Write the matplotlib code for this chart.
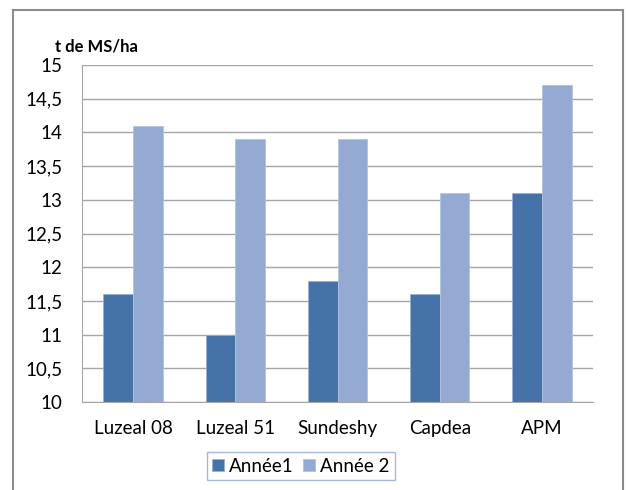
import matplotlib
matplotlib.use("Agg")
import matplotlib.pyplot as plt
import numpy as np
from matplotlib.patches import Rectangle
from matplotlib.ticker import FuncFormatter

plt.rcParams['font.family'] = ['Lato', 'DejaVu Sans']

categories = ["Luzeal 08", "Luzeal 51", "Sundeshy", "Capdea", "APM"]
annee1 = [11.6, 11.0, 11.8, 11.6, 13.1]
annee2 = [14.1, 13.9, 13.9, 13.1, 14.7]
series_names = ["Année1", "Année 2"]
y_ticks = [10, 10.5, 11, 11.5, 12, 12.5, 13, 13.5, 14, 14.5, 15]

W, H = 628, 490
fig = plt.figure(figsize=(W/100, H/100), dpi=100)
fig.patches.append(Rectangle((13/W, -0.1), (623-13)/W, 1.1 - 10/H,
                             transform=fig.transFigure, fill=False,
                             edgecolor='#8c8c8c', linewidth=1.5))
ax = fig.add_axes([82/W, 1-402/H, (593-82)/W, (402-65)/H])

x = np.arange(len(categories))
w = 0.29
c1 = '#4573A7'
c2 = '#94AAD2'
ax.bar(x - w/2, [v - 10 for v in annee1], w, bottom=10, color=c1,
       edgecolor='#9ab0d6', linewidth=0.6, label=series_names[0], zorder=3)
ax.bar(x + w/2, [v - 10 for v in annee2], w, bottom=10, color=c2,
       edgecolor='#b0c2e0', linewidth=0.6, label=series_names[1], zorder=3)

ax.set_xlim(-0.5, len(categories) - 0.5)
ax.set_ylim(10, 15)
ax.set_yticks(y_ticks)
ax.yaxis.set_major_formatter(FuncFormatter(lambda v, p: (f"{v:g}").replace('.', ',')))
ax.set_xticks(x)
ax.set_xticklabels(categories)
ax.tick_params(axis='both', length=0, labelsize=13.5, colors='black')
ax.tick_params(axis='x', pad=13)
ax.tick_params(axis='y', pad=14)
ax.grid(axis='y', color='#a6a6a6', linewidth=1, zorder=0)
for s in ['top', 'right']:
    ax.spines[s].set_visible(False)
ax.spines['left'].set_color('#a6a6a6')
ax.spines['bottom'].set_color('#a6a6a6')

fig.text(55/W, 1-47/H, "t de MS/ha", fontsize=12, fontweight='bold',
         va='center', ha='left')

leg = fig.legend(loc='center', bbox_to_anchor=(301/W, 1-466/H), ncol=2,
                 fontsize=13.5, frameon=True, fancybox=False,
                 handlelength=0.6, handleheight=0.6, handletextpad=0.3,
                 columnspacing=0.5, borderpad=0.3, borderaxespad=0)
leg.get_frame().set_edgecolor('#8ea9d0')
leg.get_frame().set_linewidth(1)

fig.savefig("out.png", dpi=100)
